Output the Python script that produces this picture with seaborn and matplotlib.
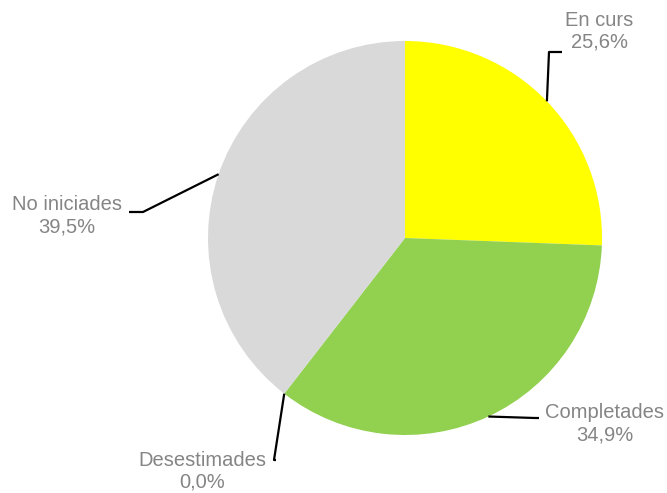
import numpy as np
import seaborn as sns
import matplotlib
matplotlib.use("Agg")
import matplotlib.pyplot as plt

categories = ["En curs", "Completades", "Desestimades", "No iniciades"]
shares = [25.6, 34.9, 0.0, 39.5]
colors = ["#FFFF00", "#92D050", "#C00000", "#D9D9D9"]

# label block centre, leader elbow and leader end (pixel offsets from pie centre)
label_pos = [(194, 207), (200, -186), (-203, -233), (-338, 22)]
elbows = [(144, 186), (130, -180), (-131, -222), (-262, 26)]
ends = [(157, 186), (134, -180), (-129, -222), (-276, 26)]

sns.set_style("white")
plt.rcParams["font.family"] = ["Liberation Sans", "DejaVu Sans"]

fig = plt.figure(figsize=(6.67, 4.93), dpi=100)
ax = fig.add_axes([0, 0, 1, 1])
R = 197
wedges, _ = ax.pie(shares, colors=colors, startangle=90, counterclock=False,
                   radius=R, wedgeprops=dict(linewidth=0))
ax.set_xlim(-405, 262)
ax.set_ylim(-255, 238)
ax.set_aspect("equal")
ax.axis("off")

for w, cat, val, lp, el, en in zip(wedges, categories, shares, label_pos, elbows, ends):
    ang = np.deg2rad((w.theta1 + w.theta2) / 2)
    edge = (R * np.cos(ang), R * np.sin(ang))
    ax.plot([edge[0], el[0], en[0]], [edge[1], el[1], en[1]], color="black", lw=1.6,
            solid_capstyle="butt")
    txt = cat + "\n" + ("%.1f%%" % val).replace(".", ",")
    ax.text(lp[0], lp[1], txt, ha="center", va="center", fontsize=14.5,
            color="#858585", linespacing=1.2)

fig.savefig("out.png", dpi=100)
